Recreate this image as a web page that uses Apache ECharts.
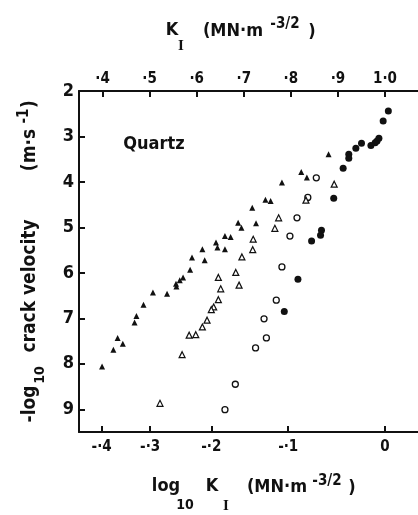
<!DOCTYPE html>
<html>
<head>
<meta charset="utf-8">
<script src="https://cdn.jsdelivr.net/npm/echarts@6/dist/echarts.min.js"></script>
<style>
  html, body { margin: 0; padding: 0; background: #fff; }
  #chart { width: 418px; height: 515px; }
</style>
</head>
<body>
<div id="chart"></div>
<script>
// K_I values (MN m^-3/2) and -log10 crack velocity
const filledCircleK = [1.007, 0.996, 0.987, 0.983, 0.979, 0.970, 0.950, 0.938, 0.923, 0.923, 0.911, 0.891, 0.865, 0.863, 0.844, 0.815, 0.786];
const filledCircleV = [2.44, 2.66, 3.04, 3.10, 3.14, 3.20, 3.15, 3.26, 3.39, 3.48, 3.70, 4.36, 5.06, 5.17, 5.30, 6.14, 6.85];

const openCircleK = [0.854, 0.836, 0.813, 0.798, 0.781, 0.769, 0.743, 0.748, 0.725, 0.682, 0.660];
const openCircleV = [3.91, 4.34, 4.79, 5.19, 5.87, 6.60, 7.01, 7.43, 7.65, 8.45, 9.01];

const filledTriK = [0.880, 0.822, 0.834, 0.781, 0.746, 0.757, 0.718, 0.688, 0.695, 0.726, 0.660, 0.672, 0.641, 0.644, 0.660,
  0.612, 0.590, 0.617, 0.586, 0.571, 0.564, 0.556, 0.557, 0.507, 0.537, 0.487, 0.472, 0.468, 0.432, 0.443, 0.423, 0.399];
const filledTriV = [3.39, 3.78, 3.90, 4.01, 4.39, 4.42, 4.57, 4.90, 5.01, 4.91, 5.19, 5.21, 5.33, 5.44, 5.48,
  5.48, 5.66, 5.72, 5.93, 6.10, 6.16, 6.24, 6.30, 6.43, 6.46, 6.70, 6.95, 7.09, 7.43, 7.56, 7.69, 8.06];

const openTriK = [0.892, 0.832, 0.774, 0.766, 0.720, 0.719, 0.696, 0.683, 0.646, 0.690, 0.651, 0.646, 0.636, 0.631,
  0.622, 0.612, 0.598, 0.584, 0.569, 0.522];
const openTriV = [4.05, 4.40, 4.79, 5.02, 5.26, 5.49, 5.65, 5.99, 6.10, 6.27, 6.35, 6.59, 6.75, 6.81,
  7.04, 7.19, 7.36, 7.37, 7.80, 8.87];

// axis ticks
const topTicks = [0.4, 0.5, 0.6, 0.7, 0.8, 0.9, 1.0];
const topLabels = ['·4', '·5', '·6', '·7', '·8', '·9', '1·0'];
const bottomLogTicks = [-0.4, -0.3, -0.2, -0.1, 0];
const bottomLabels = ['-·4', '-·3', '-·2', '-·1', '0'];
const yTicks = [2, 3, 4, 5, 6, 7, 8, 9];

const FAMILY = '"DejaVu Sans Condensed", "Liberation Sans Narrow", "DejaVu Sans", sans-serif';
const SERIF = '"Liberation Serif", "DejaVu Serif", serif';
const INK = '#111';

const bottomTicks = bottomLogTicks.map(function (v) { return Math.pow(10, v); });

function zip(a, b) {
  return a.map(function (v, i) { return [v, b[i]]; });
}

function pickLabel(ticks, labels) {
  return function (val) {
    for (let i = 0; i < ticks.length; i++) {
      if (Math.abs(ticks[i] - val) < 1e-4) return labels[i];
    }
    return '';
  };
}

// title pieces (for sub/superscripts), each centred on its own point
function texts(parts) {
  return parts.map(function (p) {
    return {
      type: 'text',
      silent: true,
      x: p.x,
      y: p.y,
      rotation: p.rot ? Math.PI / 2 : 0,
      style: {
        text: p.t, fill: INK, fontSize: p.size, fontWeight: 'bold', fontFamily: p.fam || FAMILY,
        align: 'center', verticalAlign: 'middle', textAlign: 'center', textVerticalAlign: 'middle'
      }
    };
  });
}

const graphics = [].concat(
  texts([
    { t: 'K', size: 18, x: 172, y: 30 },
    { t: 'I', size: 15, x: 181, y: 46, fam: SERIF },
    { t: '(MN·m', size: 18, x: 233, y: 31 },
    { t: '-3/2', size: 15, x: 285, y: 24 },
    { t: ')', size: 18, x: 312, y: 32 }
  ]),
  texts([
    { t: 'log', size: 18, x: 166, y: 486 },
    { t: '10', size: 14, x: 185, y: 505 },
    { t: 'K', size: 18, x: 212, y: 486 },
    { t: 'I', size: 15, x: 226, y: 506, fam: SERIF },
    { t: '(MN·m', size: 18, x: 277, y: 487 },
    { t: '-3/2', size: 15, x: 327, y: 481 },
    { t: ')', size: 18, x: 352, y: 488 }
  ]),
  texts([
    { t: '-log', size: 19, x: 30, y: 404, rot: true },
    { t: '10', size: 14, x: 40, y: 375, rot: true },
    { t: 'crack velocity', size: 19, x: 30, y: 286, rot: true },
    { t: '(m·s', size: 19, x: 30, y: 150, rot: true },
    { t: '-1', size: 15, x: 24, y: 116, rot: true },
    { t: ')', size: 19, x: 30, y: 104, rot: true }
  ]),
  texts([{ t: 'Quartz', size: 18, x: 154, y: 144 }])
);

const axisLine = { show: true, lineStyle: { color: INK, width: 2 } };
const axisTick = { show: true, inside: true, length: 6, lineStyle: { color: INK, width: 2 } };

const chart = echarts.init(document.getElementById('chart'));
chart.setOption({
  animation: false,
  backgroundColor: '#fff',
  grid: { left: 79, top: 91, right: -12, bottom: 83 },
  graphic: graphics,
  xAxis: [{
    type: 'value', position: 'top', min: 0.35, max: 1.07,
    axisLine: axisLine,
    axisTick: Object.assign({ customValues: topTicks }, axisTick),
    axisLabel: {
      customValues: topTicks, formatter: pickLabel(topTicks, topLabels),
      color: INK, fontSize: 15, fontWeight: 'bold', fontFamily: FAMILY, margin: 4
    },
    splitLine: { show: false }
  }, {
    type: 'value', position: 'bottom', min: 0.35, max: 1.07,
    axisLine: axisLine,
    axisTick: Object.assign({ customValues: bottomTicks }, axisTick),
    axisLabel: {
      customValues: bottomTicks, formatter: pickLabel(bottomTicks, bottomLabels),
      color: INK, fontSize: 15, fontWeight: 'bold', fontFamily: FAMILY, margin: 8
    },
    splitLine: { show: false }
  }],
  yAxis: {
    type: 'value', inverse: true, min: 2, max: 9.5,
    axisLine: axisLine,
    axisTick: Object.assign({ customValues: yTicks }, axisTick),
    axisLabel: {
      customValues: yTicks, color: INK, fontSize: 18, fontWeight: 'bold', fontFamily: FAMILY, margin: 5
    },
    splitLine: { show: false }
  },
  series: [{
    name: 'filled circles', type: 'scatter', xAxisIndex: 0,
    symbol: 'circle', symbolSize: 7,
    itemStyle: { color: INK, opacity: 1 },
    data: zip(filledCircleK, filledCircleV)
  }, {
    name: 'open circles', type: 'scatter', xAxisIndex: 0,
    symbol: 'circle', symbolSize: 6,
    itemStyle: { color: '#fff', borderColor: INK, borderWidth: 1.3, opacity: 1 },
    data: zip(openCircleK, openCircleV)
  }, {
    name: 'filled triangles', type: 'scatter', xAxisIndex: 0,
    symbol: 'triangle', symbolSize: 6,
    itemStyle: { color: INK, opacity: 1 },
    data: zip(filledTriK, filledTriV)
  }, {
    name: 'open triangles', type: 'scatter', xAxisIndex: 0,
    symbol: 'triangle', symbolSize: 6,
    itemStyle: { color: '#fff', borderColor: INK, borderWidth: 1.2, opacity: 1 },
    data: zip(openTriK, openTriV)
  }]
});
</script>
</body>
</html>
